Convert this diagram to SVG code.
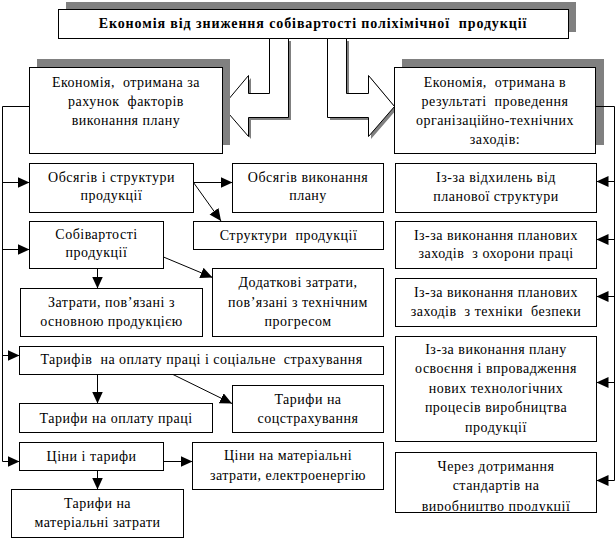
<svg xmlns="http://www.w3.org/2000/svg" width="616" height="541" viewBox="0 0 616 541">
<style>
.box{fill:#fff;stroke:#000;stroke-width:1}
.sh{fill:#808080;stroke:none}
.t{font-family:"Liberation Serif","Times New Roman",serif;font-size:14px;letter-spacing:0.5px;text-anchor:middle;fill:#000;white-space:pre}
.tb{font-family:"Liberation Serif","Times New Roman",serif;font-size:14px;font-weight:bold;letter-spacing:0.9px;text-anchor:middle;fill:#000;white-space:pre}
.ln{fill:none;stroke:#000;stroke-width:1}
.ar{fill:none;stroke:#000;stroke-width:1;marker-end:url(#ah)}
.blk{fill:#fff;stroke:#000;stroke-width:1}
</style>
<defs>
<marker id="ah" markerUnits="userSpaceOnUse" markerWidth="12" markerHeight="12" refX="12" refY="5.5" orient="auto">
<path d="M0,0 L12,5.5 L0,11 z" fill="#000"/>
</marker>
<clipPath id="clipE"><rect x="396" y="453" width="200" height="58"/></clipPath>
</defs>
<rect width="616" height="541" fill="#fff"/>

<g id="title">
<rect class="sh" x="66" y="2" width="510" height="30"/>
<rect class="box" x="58.5" y="9.5" width="510" height="29"/>
<text class="tb" x="313" y="28">Економія від зниження собівартості поліхімічної  продукції</text>
</g>

<g id="arrowLeft">
<polygon class="sh" transform="translate(3,3)" points="269,38 288,38 288,117 248,117 248,136 222,106 248,75 248,93 269,93"/>
<polygon class="blk" points="269.5,38.5 288.5,38.5 288.5,117.5 248.5,117.5 248.5,136.5 222.5,106.5 248.5,75.5 248.5,93.5 269.5,93.5"/>
</g>
<g id="arrowRight">
<polygon class="sh" transform="translate(3,3)" points="327,38 346,38 346,93 368,93 368,75 394,106 368,136 368,117 327,117"/>
<polygon class="blk" points="327.5,38.5 346.5,38.5 346.5,93.5 368.5,93.5 368.5,75.5 394.5,106.5 368.5,136.5 368.5,117.5 327.5,117.5"/>
</g>

<g id="leftMain">
<rect class="sh" x="37" y="59" width="193" height="86"/>
<rect class="box" x="29.5" y="67.5" width="193" height="86"/>
<text class="t" x="126" y="87">Економія,  отримана за</text>
<text class="t" x="126" y="106">рахунок  факторів</text>
<text class="t" x="126" y="125">виконання плану</text>
</g>

<g id="rightMain">
<rect class="sh" x="402" y="59" width="202" height="86"/>
<rect class="box" x="394.5" y="67.5" width="201" height="86"/>
<text class="t" x="495" y="87">Економія,  отримана в</text>
<text class="t" x="495" y="106">результаті  проведення</text>
<text class="t" x="495" y="125">організаційно-технічних</text>
<text class="t" x="495" y="144">заходів:</text>
</g>

<g id="obsyagivStruktury">
<rect class="box" x="29.5" y="163.5" width="164" height="49"/>
<text class="t" x="111.5" y="182">Обсягів і структури</text>
<text class="t" x="111.5" y="200">продукції</text>
</g>
<g id="obsyagivVykonannya">
<rect class="box" x="232.5" y="163.5" width="151" height="49"/>
<text class="t" x="308" y="182">Обсягів виконання</text>
<text class="t" x="308" y="200">плану</text>
</g>
<g id="struktury">
<rect class="box" x="193.5" y="221.5" width="190" height="28"/>
<text class="t" x="288.5" y="240">Структури  продукції</text>
</g>
<g id="sobivartosti">
<rect class="box" x="29.5" y="221.5" width="134" height="47"/>
<text class="t" x="96.5" y="239">Собівартості</text>
<text class="t" x="96.5" y="257">продукції</text>
</g>
<g id="zatraty">
<rect class="box" x="20.5" y="288.5" width="182" height="48"/>
<text class="t" x="111.5" y="307">Затрати, пов’язані з</text>
<text class="t" x="111.5" y="326">основною продукцією</text>
</g>
<g id="dodatkovi">
<rect class="box" x="212.5" y="268.5" width="171" height="68"/>
<text class="t" x="298" y="287">Додаткові затрати,</text>
<text class="t" x="298" y="307">пов’язані з технічним</text>
<text class="t" x="298" y="326">прогресом</text>
</g>
<g id="taryfiv">
<rect class="box" x="19.5" y="346.5" width="364" height="28"/>
<text class="t" x="201.5" y="364">Тарифів  на оплату праці і соціальне  страхування</text>
</g>
<g id="taryfyOplata">
<rect class="box" x="19.5" y="403.5" width="193" height="29"/>
<text class="t" x="116" y="423">Тарифи на оплату праці</text>
</g>
<g id="taryfySoc">
<rect class="box" x="232.5" y="385.5" width="151" height="47"/>
<text class="t" x="308" y="404">Тарифи на</text>
<text class="t" x="308" y="423">соцстрахування</text>
</g>
<g id="tsiny">
<rect class="box" x="19.5" y="442.5" width="144" height="28"/>
<text class="t" x="91.5" y="461">Ціни і тарифи</text>
</g>
<g id="tsinyMat">
<rect class="box" x="192.5" y="442.5" width="191" height="47"/>
<text class="t" x="288" y="460">Ціни на матеріальні</text>
<text class="t" x="288" y="480">затрати, електроенергію</text>
</g>
<g id="taryfyMat">
<rect class="box" x="11.5" y="489.5" width="172" height="48"/>
<text class="t" x="97.5" y="508">Тарифи на</text>
<text class="t" x="97.5" y="527">матеріальні затрати</text>
</g>

<g id="vidkhylen">
<rect class="box" x="395.5" y="163.5" width="201" height="49"/>
<text class="t" x="496" y="182">Із-за відхилень від</text>
<text class="t" x="496" y="201">планової структури</text>
</g>
<g id="okhoronyPratsi">
<rect class="box" x="395.5" y="221.5" width="201" height="47"/>
<text class="t" x="496" y="240">Із-за виконання планових</text>
<text class="t" x="496" y="258">заходів  з охорони праці</text>
</g>
<g id="tekhnikyBezpeky">
<rect class="box" x="395.5" y="278.5" width="201" height="48"/>
<text class="t" x="496" y="297">Із-за виконання планових</text>
<text class="t" x="496" y="316">заходів  з техніки  безпеки</text>
</g>
<g id="osvoennya">
<rect class="box" x="395.5" y="336.5" width="201" height="105"/>
<text class="t" x="496" y="354">Із-за виконання плану</text>
<text class="t" x="496" y="373">освоєння і впровадження</text>
<text class="t" x="496" y="393">нових технологічних</text>
<text class="t" x="496" y="412">процесів виробництва</text>
<text class="t" x="496" y="432">продукції</text>
</g>
<g id="standarty">
<rect class="box" x="395.5" y="452.5" width="201" height="60"/>
<g clip-path="url(#clipE)">
<text class="t" x="496" y="471">Через дотримання</text>
<text class="t" x="496" y="490">стандартів на</text>
<text class="t" x="496" y="511">виробництво продукції</text>
</g>
</g>

<g id="connectors">
<path class="ln" d="M29.5,106.5 H2.5 V461.5"/>
<path class="ar" d="M2.5,182.5 H29.5"/>
<path class="ar" d="M2.5,249.5 H29.5"/>
<path class="ar" d="M2.5,355.5 H19.5"/>
<path class="ar" d="M2.5,461.5 H19.5"/>
<path class="ln" d="M595.5,106.5 H614.5 V480.5"/>
<path class="ar" d="M614.5,181.5 H596.5"/>
<path class="ar" d="M614.5,239.5 H596.5"/>
<path class="ar" d="M614.5,296.5 H596.5"/>
<path class="ar" d="M614.5,382.5 H596.5"/>
<path class="ar" d="M614.5,480.5 H596.5"/>
<path class="ar" d="M193.5,182.5 H232.5"/>
<path class="ar" d="M193.5,182.5 L221,221"/>
<path class="ar" d="M163.5,257 L212.5,277.5"/>
<path class="ar" d="M97.5,268.5 V288.5"/>
<path class="ar" d="M97.5,374.5 V403.5"/>
<path class="ar" d="M173,374.5 L232,403.5"/>
<path class="ar" d="M163.5,461.5 H192.5"/>
<path class="ar" d="M97.5,470.5 V489.5"/>
</g>
</svg>
